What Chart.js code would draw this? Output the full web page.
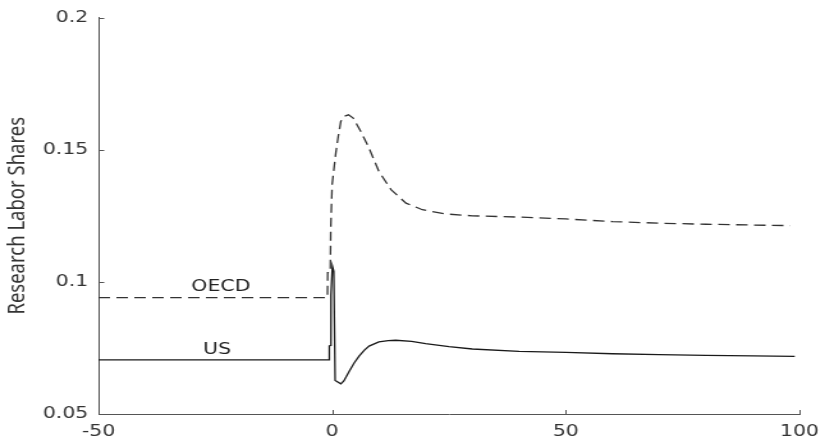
<!DOCTYPE html>
<html>
<head>
<meta charset="utf-8">
<script src="https://cdn.jsdelivr.net/npm/chart.js@4"></script>
<style>
  html, body { margin: 0; padding: 0; background: #fff; overflow: hidden; }
  /* the reference picture is stretched sideways, so draw narrow and widen */
  #wrap { width: 645px; height: 440px; transform: scaleX(1.2791); transform-origin: 0 0; }
</style>
</head>
<body>
<div id="wrap"><canvas id="chart" width="645" height="440"></canvas></div>
<script>
// periods relative to the shock
const usT = [-50, -0.65, -0.6, -0.3, -0.25, 0.05, 0.35, 0.64, 1.86, 2.5, 3.6, 4.7, 5.8, 6.9, 7.9, 10, 12, 13.6, 17, 20, 25, 30, 40, 50, 60, 70, 80, 90, 99];
const usShare = [0.0705, 0.0705, 0.0758, 0.076, 0.095, 0.106, 0.104, 0.0627, 0.0614, 0.0625, 0.066, 0.0693, 0.072, 0.0742, 0.0757, 0.0773, 0.0778, 0.0779, 0.0775, 0.0766, 0.0755, 0.0746, 0.0737, 0.0733, 0.0728, 0.0725, 0.0722, 0.0720, 0.0718];

const oecdT = [-50, -1.0, -0.95, -0.4, -0.3, 0.0, 0.8, 1.3, 1.85, 2.6, 3.5, 4.5, 6.1, 7.9, 10, 12.6, 15.8, 19.3, 24.3, 30, 40, 50, 60, 70, 80, 90, 98];
const oecdShare = [0.094, 0.094, 0.1035, 0.1035, 0.12, 0.137, 0.149, 0.155, 0.1607, 0.1627, 0.1632, 0.162, 0.157, 0.1506, 0.1418, 0.1349, 0.1298, 0.1273, 0.1257, 0.1250, 0.1245, 0.1238, 0.1228, 0.1222, 0.1218, 0.1215, 0.1213];

const seriesNames = ['US', 'OECD'];
const labelX = [-24.6, -23.8];
const labelY = [0.0742, 0.098];

const toPts = (xs, ys) => xs.map((x, i) => ({ x: x, y: ys[i] }));

const innerTicks = {
    id: 'innerTicks',
    afterDraw(chart) {
        const ctx = chart.ctx;
        const x = chart.scales.x, y = chart.scales.y;
        ctx.save();
        ctx.strokeStyle = '#555';
        ctx.lineWidth = 1;
        ctx.beginPath();
        x.ticks.forEach(t => {
            const px = Math.round(x.getPixelForValue(t.value)) + 0.5;
            ctx.moveTo(px, y.bottom);
            ctx.lineTo(px, y.bottom - 4);
        });
        y.ticks.forEach(t => {
            const py = Math.round(y.getPixelForValue(t.value)) + 0.5;
            ctx.moveTo(x.left, py);
            ctx.lineTo(x.left + 4.5, py);
        });
        ctx.stroke();
        // series labels
        ctx.fillStyle = '#222';
        ctx.font = '16px "DejaVu Sans"';
        ctx.textAlign = 'center';
        ctx.textBaseline = 'middle';
        seriesNames.forEach((n, i) => {
            ctx.fillText(n, x.getPixelForValue(labelX[i]), y.getPixelForValue(labelY[i]));
        });
        ctx.restore();
    }
};

new Chart(document.getElementById('chart').getContext('2d'), {
    type: 'line',
    data: {
        datasets: [{
            label: 'US',
            data: toPts(usT, usShare),
            borderColor: '#1a1a1a',
            borderWidth: 1.3,
            pointRadius: 0,
            tension: 0
        }, {
            label: 'OECD',
            data: toPts(oecdT, oecdShare),
            borderColor: '#333',
            borderWidth: 1.3,
            borderDash: [9, 5],
            pointRadius: 0,
            tension: 0
        }]
    },
    options: {
        responsive: false,
        animation: false,
        layout: { padding: { top: 16, right: 20, left: 0, bottom: 0 } },
        plugins: { legend: { display: false }, tooltip: { enabled: false } },
        scales: {
            x: {
                type: 'linear',
                min: -50, max: 100,
                grid: { display: false, drawTicks: false },
                border: { display: true, color: '#555', width: 1 },
                ticks: { stepSize: 50, padding: 8, color: '#333', font: { family: 'DejaVu Sans', size: 16 } },
                afterFit(s) { s.height = 26; s.paddingLeft = 0; s.paddingRight = 0; }
            },
            y: {
                min: 0.05, max: 0.2,
                grid: { display: false, drawTicks: false },
                border: { display: true, color: '#555', width: 1 },
                ticks: {
                    stepSize: 0.05, padding: 8, color: '#333',
                    font: { family: 'DejaVu Sans', size: 16 },
                    callback: v => String(Number(v.toFixed(2)))
                },
                title: {
                    display: true,
                    text: 'Research Labor Shares',
                    color: '#333',
                    padding: { top: 3, bottom: 0 },
                    font: { family: 'Noto Sans', size: 18.5 }
                },
                afterFit(s) { s.width = 77; }
            }
        }
    },
    plugins: [innerTicks]
});
</script>
</body>
</html>
